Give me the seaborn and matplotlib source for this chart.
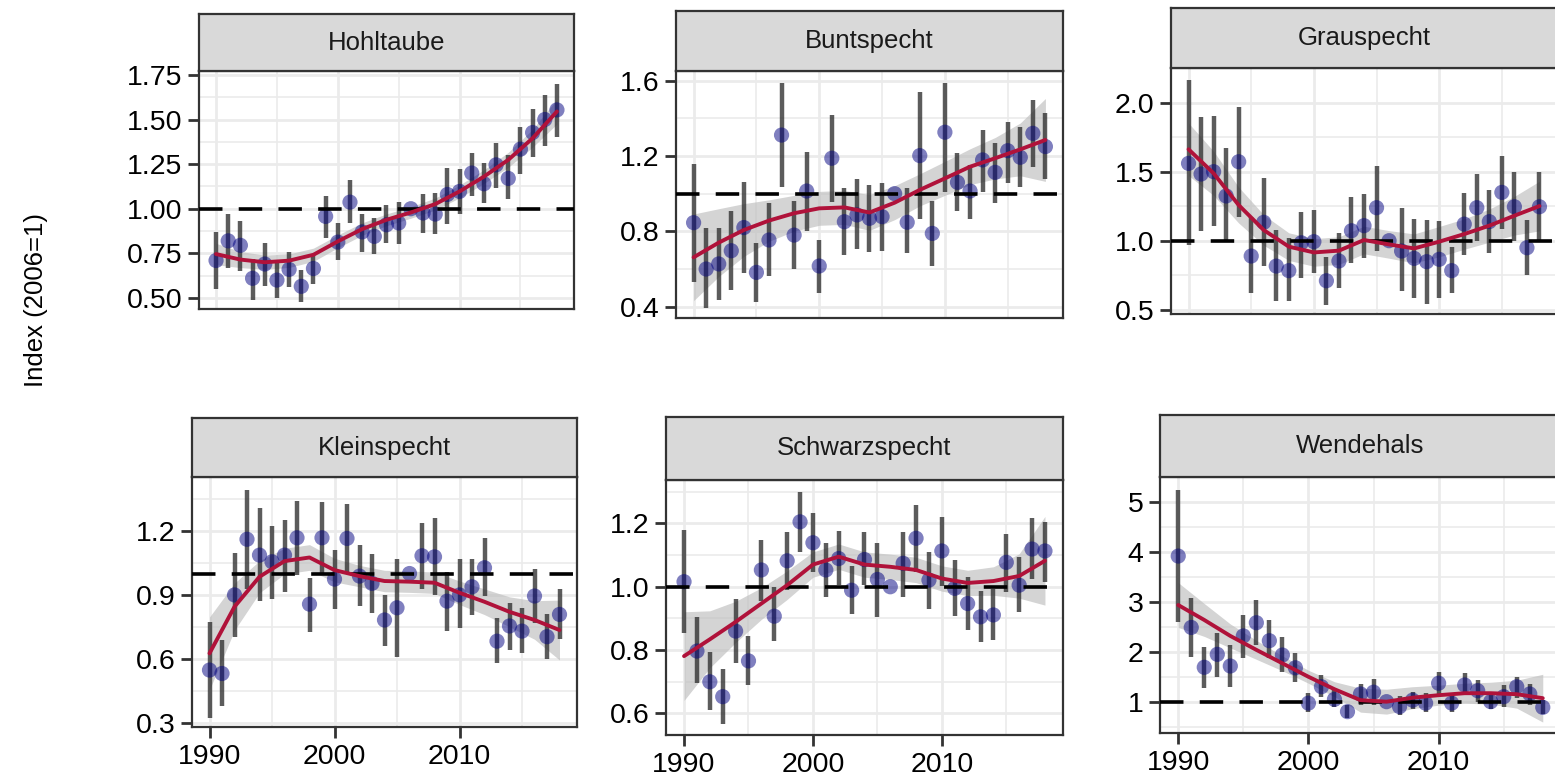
import numpy as np
import pandas as pd
import matplotlib
matplotlib.use("Agg")
import matplotlib.pyplot as plt
import seaborn as sns

# ---------------- data ----------------
years = list(range(1990, 2019))
fit_years = list(range(1990, 2019, 2))

hohl_idx = [0.71, 0.82, 0.795, 0.61, 0.69, 0.60, 0.66, 0.565, 0.665, 0.957, 0.813, 1.037, 0.87, 0.845, 0.91,
            0.92, 1.00, 0.976, 0.97, 1.08, 1.097, 1.20, 1.14, 1.246, 1.17, 1.334, 1.427, 1.50, 1.554]
hohl_lo = [0.55, 0.67, 0.65, 0.49, 0.565, 0.50, 0.56, 0.48, 0.58, 0.836, 0.715, 0.92, 0.76, 0.745, 0.81,
           0.80, 1.00, 0.865, 0.86, 0.915, 0.97, 1.07, 1.03, 1.116, 1.055, 1.196, 1.29, 1.35, 1.40]
hohl_hi = [0.867, 0.97, 0.93, 0.72, 0.81, 0.70, 0.76, 0.655, 0.74, 1.07, 0.92, 1.16, 0.97, 0.95, 1.02,
           1.04, 1.00, 1.08, 1.09, 1.23, 1.22, 1.315, 1.255, 1.37, 1.30, 1.46, 1.56, 1.64, 1.70]
hohl_fit = [0.746, 0.715, 0.70, 0.709, 0.742, 0.817, 0.886, 0.938, 0.979, 1.026, 1.097, 1.18, 1.274, 1.395, 1.545]
hohl_half = [0.06, 0.045, 0.04, 0.038, 0.037, 0.036, 0.035, 0.033, 0.032, 0.034, 0.036, 0.038, 0.042, 0.05, 0.07]

bunt_idx = [0.846, 0.60, 0.627, 0.697, 0.82, 0.582, 0.754, 1.311, 0.78, 1.014, 0.616, 1.188, 0.851, 0.887, 0.869,
            0.878, 1.0, 0.848, 1.202, 0.789, 1.326, 1.06, 1.014, 1.179, 1.113, 1.228, 1.193, 1.32, 1.25]
bunt_lo = [0.533, 0.391, 0.435, 0.489, 0.577, 0.423, 0.563, 1.037, 0.60, 0.802, 0.471, 0.958, 0.674, 0.704, 0.689,
           0.697, 1.0, 0.687, 0.865, 0.618, 1.011, 0.91, 0.865, 1.011, 0.952, 1.055, 1.034, 1.14, 1.078]
bunt_hi = [1.157, 0.816, 0.816, 0.91, 1.064, 0.74, 0.949, 1.589, 0.963, 1.223, 0.754, 1.418, 1.028, 1.076, 1.046,
           1.058, 1.0, 1.028, 1.538, 0.963, 1.589, 1.218, 1.152, 1.338, 1.271, 1.382, 1.356, 1.497, 1.427]
bunt_fit = [0.662, 0.74, 0.807, 0.857, 0.896, 0.922, 0.927, 0.90, 0.952, 1.02, 1.081, 1.143, 1.188, 1.235, 1.285]
bunt_half = [0.23, 0.18, 0.14, 0.11, 0.095, 0.09, 0.09, 0.095, 0.09, 0.085, 0.09, 0.095, 0.11, 0.14, 0.22]

grau_idx = [1.56, 1.483, 1.50, 1.324, 1.572, 0.889, 1.133, 0.816, 0.783, 0.985, 0.993, 0.71, 0.853, 1.072, 1.109,
            1.239, 1.0, 0.925, 0.872, 0.848, 0.865, 0.783, 1.12, 1.239, 1.138, 1.35, 1.246, 0.949, 1.246]
grau_lo = [0.969, 1.072, 1.109, 1.005, 1.17, 0.618, 0.816, 0.565, 0.565, 0.727, 0.763, 0.534, 0.655, 0.84, 0.877,
           0.925, 1.0, 0.635, 0.582, 0.541, 0.587, 0.618, 0.896, 1.0, 0.908, 1.085, 1.0, 0.751, 1.005]
grau_hi = [2.164, 1.894, 1.903, 1.669, 1.97, 1.174, 1.452, 1.077, 1.017, 1.21, 1.222, 0.884, 1.053, 1.314, 1.336,
           1.541, 1.0, 1.234, 1.157, 1.15, 1.142, 0.957, 1.343, 1.483, 1.367, 1.616, 1.495, 1.15, 1.495]
grau_fit = [1.662, 1.488, 1.258, 1.077, 0.957, 0.915, 0.928, 1.005, 0.973, 0.944, 0.993, 1.048, 1.109, 1.181, 1.251]
grau_half = [0.19, 0.16, 0.13, 0.11, 0.10, 0.10, 0.10, 0.10, 0.10, 0.105, 0.11, 0.11, 0.12, 0.14, 0.18]

klein_idx = [0.549, 0.533, 0.90, 1.16, 1.086, 1.055, 1.086, 1.167, 0.857, 1.167, 0.974, 1.164, 0.988, 0.954, 0.783,
             0.84, 1.0, 1.083, 1.078, 0.871, 0.90, 0.938, 1.027, 0.684, 0.755, 0.731, 0.895, 0.705, 0.809]
klein_lo = [0.323, 0.382, 0.705, 0.93, 0.871, 0.881, 0.912, 0.993, 0.728, 1.0, 0.832, 0.996, 0.848, 0.817, 0.663,
            0.611, 1.0, 0.927, 0.9, 0.731, 0.744, 0.806, 0.895, 0.583, 0.645, 0.63, 0.77, 0.6, 0.692]
klein_hi = [0.775, 0.689, 1.094, 1.39, 1.304, 1.224, 1.25, 1.34, 0.977, 1.335, 1.11, 1.325, 1.133, 1.09, 0.9,
            1.066, 1.0, 1.237, 1.258, 1.008, 1.066, 1.066, 1.164, 0.79, 0.864, 0.84, 1.02, 0.81, 0.927]
klein_fit = [0.627, 0.845, 0.985, 1.058, 1.075, 1.016, 0.988, 0.965, 0.962, 0.957, 0.91, 0.868, 0.821, 0.783, 0.736]
klein_half = [0.17, 0.11, 0.075, 0.06, 0.06, 0.055, 0.05, 0.05, 0.05, 0.05, 0.055, 0.06, 0.07, 0.09, 0.14]

schw_idx = [1.016, 0.797, 0.70, 0.653, 0.86, 0.766, 1.053, 0.907, 1.082, 1.205, 1.139, 1.053, 1.089, 0.989, 1.086,
            1.023, 1.0, 1.074, 1.153, 1.021, 1.113, 0.995, 0.947, 0.905, 0.911, 1.077, 1.005, 1.119, 1.113]
schw_lo = [0.853, 0.695, 0.611, 0.566, 0.76, 0.689, 0.956, 0.828, 0.989, 1.11, 1.047, 0.968, 1.005, 0.914, 1.005,
           0.905, 1.0, 0.968, 1.047, 0.929, 1.003, 0.908, 0.865, 0.826, 0.832, 0.984, 0.921, 1.026, 1.016]
schw_hi = [1.179, 0.905, 0.793, 0.739, 0.961, 0.845, 1.147, 1.0, 1.174, 1.30, 1.232, 1.137, 1.176, 1.066, 1.172,
           1.139, 1.0, 1.174, 1.258, 1.111, 1.219, 1.084, 1.032, 0.987, 0.993, 1.168, 1.093, 1.216, 1.205]
schw_fit = [0.781, 0.834, 0.889, 0.947, 1.005, 1.07, 1.095, 1.07, 1.063, 1.053, 1.026, 1.012, 1.018, 1.034, 1.082]
schw_half = [0.14, 0.09, 0.065, 0.05, 0.045, 0.04, 0.04, 0.04, 0.04, 0.04, 0.04, 0.04, 0.045, 0.07, 0.14]

wend_idx = [3.923, 2.49, 1.69, 1.95, 1.716, 2.32, 2.585, 2.224, 1.936, 1.68, 0.97, 1.30, 1.047, 0.80, 1.155,
            1.19, 1.0, 0.90, 1.03, 0.97, 1.37, 0.97, 1.335, 1.22, 1.0, 1.10, 1.30, 1.155, 0.886]
wend_lo = [2.605, 1.90, 1.27, 1.50, 1.29, 1.88, 2.14, 1.87, 1.59, 1.39, 0.80, 1.10, 0.89, 0.68, 0.93,
           0.93, 1.0, 0.73, 0.85, 0.80, 1.12, 0.80, 1.13, 1.0, 0.85, 0.89, 1.08, 0.93, 0.75]
wend_hi = [5.25, 3.09, 2.10, 2.37, 2.14, 2.74, 3.04, 2.63, 2.29, 1.97, 1.17, 1.54, 1.25, 0.93, 1.35,
           1.45, 1.0, 1.11, 1.2, 1.17, 1.60, 1.16, 1.57, 1.43, 1.18, 1.33, 1.50, 1.35, 1.03]
wend_fit = [2.94, 2.64, 2.32, 2.04, 1.77, 1.50, 1.25, 1.03, 1.0, 1.08, 1.13, 1.17, 1.17, 1.15, 1.07]
wend_half = [0.45, 0.33, 0.24, 0.19, 0.15, 0.13, 0.15, 0.24, 0.25, 0.22, 0.2, 0.2, 0.22, 0.28, 0.48]

species = ["Hohltaube", "Buntspecht", "Grauspecht", "Kleinspecht", "Schwarzspecht", "Wendehals"]
x_tick_labels = ["1990", "2000", "2010"]
y_label = "Index (2006=1)"

# ---------------- styling / layout ----------------
sns.set_theme(style="white")
plt.rcParams["font.family"] = ["Liberation Sans", "DejaVu Sans"]

W, H = 1555, 782
fig = plt.figure(figsize=(W / 100, H / 100), dpi=100)

# (left, top, right, bottom) of plotting area, strip top  -- in pixels
boxes = [
    (199, 71, 574, 309, 14),
    (676, 71, 1063, 318, 11),
    (1171, 68, 1557, 314, 8),
    (192, 477, 577, 727, 418),
    (666, 480, 1063, 735, 417),
    (1160, 477, 1561, 733, 415),
]
ylims = [(0.438, 1.772), (0.340, 1.651), (0.469, 2.251), (0.283, 1.451), (0.532, 1.337), (0.371, 5.51)]
ymajor = [[0.5, 0.75, 1.0, 1.25, 1.5, 1.75], [0.4, 0.8, 1.2, 1.6], [0.5, 1.0, 1.5, 2.0],
          [0.3, 0.6, 0.9, 1.2], [0.6, 0.8, 1.0, 1.2], [1, 2, 3, 4, 5]]
yminor = [[0.625, 0.875, 1.125, 1.375, 1.625], [0.6, 1.0, 1.4], [0.75, 1.25, 1.75, 2.25],
          [0.45, 0.75, 1.05, 1.35], [0.7, 0.9, 1.1, 1.3], [0.5, 1.5, 2.5, 3.5, 4.5, 5.5]]
yfmt = ["{:.2f}", "{:.1f}", "{:.1f}", "{:.1f}", "{:.1f}", "{:.0f}"]

series = [
    (hohl_idx, hohl_lo, hohl_hi, hohl_fit, hohl_half),
    (bunt_idx, bunt_lo, bunt_hi, bunt_fit, bunt_half),
    (grau_idx, grau_lo, grau_hi, grau_fit, grau_half),
    (klein_idx, klein_lo, klein_hi, klein_fit, klein_half),
    (schw_idx, schw_lo, schw_hi, schw_fit, schw_half),
    (wend_idx, wend_lo, wend_hi, wend_fit, wend_half),
]

BORDER = "#333333"
GRID = "#EBEBEB"

for i, name in enumerate(species):
    l, t, r, b, st = boxes[i]
    ax = fig.add_axes([l / W, 1 - b / H, (r - l) / W, (b - t) / H])
    sax = fig.add_axes([l / W, 1 - t / H, (r - l) / W, (t - st) / H])

    idx, lo, hi, fit, half = series[i]
    df = pd.DataFrame({"year": years, "idx": idx, "lo": lo, "hi": hi})
    sm = pd.DataFrame({"year": fit_years, "fit": fit, "half": half})
    sm["low"] = sm["fit"] - sm["half"]
    sm["up"] = sm["fit"] + sm["half"]

    ax.fill_between(sm["year"], sm["low"], sm["up"], color="#BDBDBD", alpha=0.65, lw=0, zorder=2)
    ax.vlines(df["year"], df["lo"], df["hi"], color="#333333", alpha=0.8, lw=3.2, zorder=3)
    sns.scatterplot(data=df, x="year", y="idx", ax=ax, color="navy", alpha=0.5, s=120,
                    edgecolor="none", linewidth=0, zorder=4, legend=False)
    ax.axhline(1.0, color="black", lw=2.6, dashes=(6.5, 4.5), zorder=5)
    sns.lineplot(data=sm, x="year", y="fit", ax=ax, color="#B0123A", lw=2.8, zorder=6)

    ax.set_xlim(1988.6, 2019.4)
    ax.set_ylim(*ylims[i])
    ax.set_xticks([1990, 2000, 2010])
    ax.set_xticks([1995, 2005, 2015], minor=True)
    ax.set_yticks(ymajor[i])
    ax.set_yticks(yminor[i], minor=True)
    ax.set_yticklabels([yfmt[i].format(v) for v in ymajor[i]])
    ax.set_xticklabels(x_tick_labels)
    ax.set_facecolor("white")
    ax.grid(True, which="major", color=GRID, lw=2.0, zorder=0)
    ax.grid(True, which="minor", color=GRID, lw=1.2, zorder=0)
    ax.set_axisbelow(True)
    ax.set_xlabel("")
    ax.set_ylabel("")
    for sp in ax.spines.values():
        sp.set_color(BORDER)
        sp.set_linewidth(1.6)
        sp.set_visible(True)
    ax.tick_params(axis="both", which="major", length=8, width=2.0, color=BORDER,
                   labelsize=20.5, labelcolor="black", pad=4, left=True, bottom=True)
    ax.tick_params(axis="both", which="minor", length=0)
    if i < 3:
        ax.tick_params(axis="x", which="both", length=0, labelbottom=False)

    sax.set_facecolor("#D9D9D9")
    sax.set_xticks([])
    sax.set_yticks([])
    for sp in sax.spines.values():
        sp.set_color(BORDER)
        sp.set_linewidth(1.6)
        sp.set_visible(True)
    sax.text(0.5, 0.5, name, ha="center", va="center", fontsize=18.5, color="#1A1A1A",
             transform=sax.transAxes)

fig.text(36 / W, 1 - 300 / H, y_label, rotation=90, ha="center", va="center", fontsize=18.5, color="black")

fig.savefig("out.png", dpi=100)
